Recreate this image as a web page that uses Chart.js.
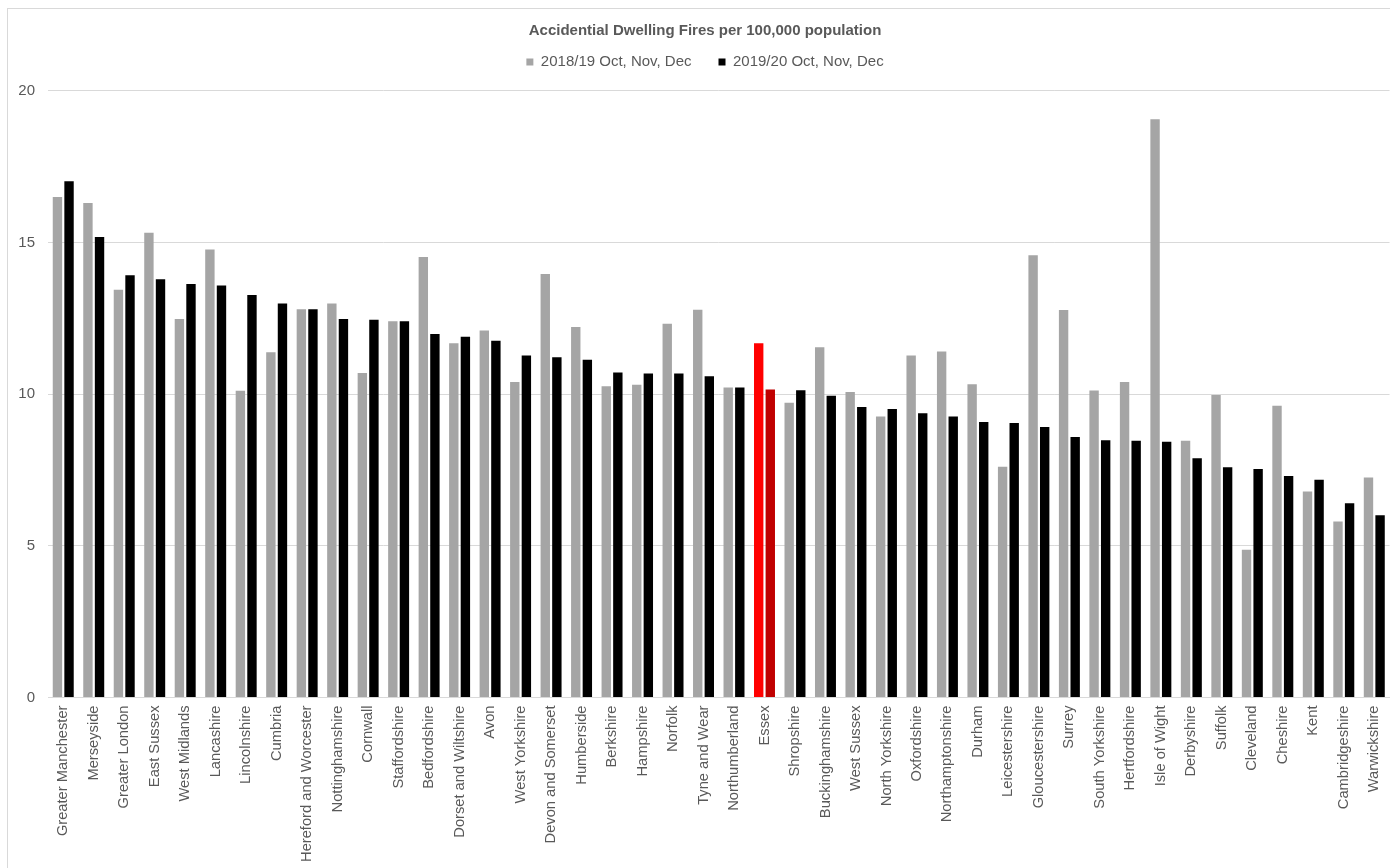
<!DOCTYPE html>
<html>
<head>
<meta charset="utf-8">
<script src="https://cdn.jsdelivr.net/npm/chart.js@4"></script>
<style>
  html, body { margin: 0; padding: 0; background: #fff; overflow: hidden; }
  #wrap { position: absolute; left: 0; top: 0; width: 1400px; height: 868px; }
</style>
</head>
<body>
<div id="wrap"><canvas id="fireChart"></canvas></div>
<script>
// fire and rescue service areas, sorted by the 2019/20 rate
const services = ['Greater Manchester', 'Merseyside', 'Greater London', 'East Sussex', 'West Midlands',
  'Lancashire', 'Lincolnshire', 'Cumbria', 'Hereford and Worcester', 'Nottinghamshire', 'Cornwall',
  'Staffordshire', 'Bedfordshire', 'Dorset and Wiltshire', 'Avon', 'West Yorkshire', 'Devon and Somerset',
  'Humberside', 'Berkshire', 'Hampshire', 'Norfolk', 'Tyne and Wear', 'Northumberland', 'Essex',
  'Shropshire', 'Buckinghamshire', 'West Sussex', 'North Yorkshire', 'Oxfordshire', 'Northamptonshire',
  'Durham', 'Leicestershire', 'Gloucestershire', 'Surrey', 'South Yorkshire', 'Hertfordshire',
  'Isle of Wight', 'Derbyshire', 'Suffolk', 'Cleveland', 'Cheshire', 'Kent', 'Cambridgeshire', 'Warwickshire'];

const rate1819 = [16.50, 16.30, 13.44, 15.32, 12.48, 14.77, 10.11, 11.38, 12.80, 12.99, 10.70,
  12.40, 14.52, 11.68, 12.10, 10.40, 13.96, 12.21, 10.26, 10.31, 12.32, 12.78, 10.22, 11.68,
  9.72, 11.55, 10.07, 9.26, 11.27, 11.41, 10.33, 7.61, 14.58, 12.77, 10.12, 10.40,
  19.06, 8.46, 9.97, 4.87, 9.62, 6.79, 5.80, 7.25];

const rate1920 = [17.02, 15.18, 13.92, 13.79, 13.63, 13.58, 13.27, 12.99, 12.80, 12.48, 12.45,
  12.40, 11.98, 11.89, 11.76, 11.27, 11.22, 11.13, 10.71, 10.68, 10.68, 10.59, 10.22, 10.15,
  10.13, 9.95, 9.58, 9.51, 9.37, 9.26, 9.08, 9.05, 8.92, 8.59, 8.48, 8.46,
  8.43, 7.89, 7.59, 7.53, 7.30, 7.18, 6.40, 6.01];

const seriesNames = ['2018/19 Oct, Nov, Dec', '2019/20 Oct, Nov, Dec'];
const yTicks = [0, 5, 10, 15, 20];
const highlight = 'Essex';

const textGrey = '#595959';
const gridGrey = '#d9d9d9';

const colours1819 = services.map(s => s === highlight ? '#ff0000' : '#a5a5a5');
const colours1920 = services.map(s => s === highlight ? '#c00000' : '#000000');

// white background and the thin outer frame
const framePlugin = {
  id: 'frame',
  beforeDraw(chart) {
    const ctx = chart.ctx;
    ctx.save();
    ctx.fillStyle = '#fff';
    ctx.fillRect(0, 0, chart.width, chart.height);
    ctx.strokeStyle = gridGrey;
    ctx.lineWidth = 1;
    ctx.strokeRect(7.5, 8.5, chart.width + 20, chart.height + 20);
    ctx.restore();
  }
};

new Chart(document.getElementById('fireChart').getContext('2d'), {
  type: 'bar',
  data: {
    labels: services,
    datasets: [
      { label: seriesNames[0], data: rate1819, backgroundColor: colours1819 },
      { label: seriesNames[1], data: rate1920, backgroundColor: colours1920 }
    ]
  },
  options: {
    responsive: true,
    maintainAspectRatio: false,
    devicePixelRatio: 1,
    animation: false,
    categoryPercentage: 0.76,
    barPercentage: 0.81,
    layout: { padding: { left: 17, right: 7, top: 0, bottom: 0 } },
    plugins: {
      title: {
        display: true,
        text: 'Accidential Dwelling Fires per 100,000 population',
        color: textGrey,
        font: { family: 'Liberation Sans, Arial', size: 15, weight: 'bold', lineHeight: 1.2 },
        // legend below has a wide padding, so pull it up under the title
        padding: { top: 22, bottom: -12.5 }
      },
      legend: {
        display: true,
        position: 'top',
        labels: {
          color: textGrey,
          font: { family: 'Liberation Sans, Arial', size: 15 },
          boxWidth: 7,
          boxHeight: 7,
          padding: 27,
          // legend swatches use the plain series colours
          generateLabels(chart) {
            return chart.data.datasets.map((ds, i) => ({
              text: ds.label,
              fillStyle: i === 0 ? '#a5a5a5' : '#000000',
              strokeStyle: i === 0 ? '#a5a5a5' : '#000000',
              lineWidth: 0,
              datasetIndex: i,
              fontColor: textGrey
            }));
          }
        }
      },
      // spacer between legend and plot
      subtitle: {
        display: true,
        text: '',
        weight: 500,
        font: { size: 1, lineHeight: 1 },
        padding: { top: 10.3, bottom: 0 }
      },
      tooltip: { enabled: false }
    },
    scales: {
      x: {
        grid: { display: false, drawTicks: false },
        border: { display: true, color: gridGrey, width: 1 },
        ticks: {
          color: textGrey,
          font: { family: 'Liberation Sans, Arial', size: 14.7 },
          autoSkip: false,
          minRotation: 90,
          maxRotation: 90,
          padding: 8
        },
        afterFit(scale) { scale.height = 170.5; }
      },
      y: {
        min: yTicks[0],
        max: yTicks[yTicks.length - 1],
        afterBuildTicks(scale) { scale.ticks = yTicks.map(v => ({ value: v })); },
        grid: { color: gridGrey, lineWidth: 1, drawTicks: false },
        border: { display: false },
        ticks: {
          color: textGrey,
          font: { family: 'Liberation Sans, Arial', size: 15 },
          padding: 13
        },
        afterFit(scale) { scale.width = 31; }
      }
    }
  },
  plugins: [framePlugin]
});
</script>
</body>
</html>
